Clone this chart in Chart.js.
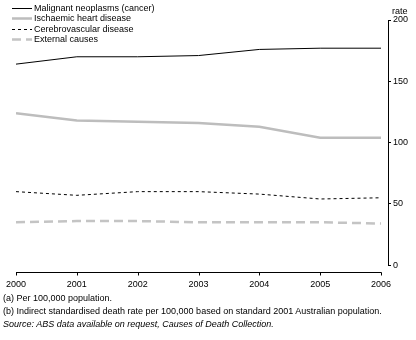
<!DOCTYPE html>
<html><head><meta charset="utf-8">
<script src="https://cdn.jsdelivr.net/npm/chart.js@4/dist/chart.umd.min.js"></script>
<style>
html,body{margin:0;padding:0;background:#fff;}
#wrap{position:relative;width:416px;height:340px;overflow:hidden;}
canvas{position:absolute;left:0;top:0;}
.note{position:absolute;left:3px;font:9px "Liberation Sans",Arial,sans-serif;color:#000;white-space:nowrap;}
</style></head><body>
<div id="wrap"><canvas id="c" width="416" height="340"></canvas>
<div class="note" style="top:293px">(a) Per 100,000 population.</div>
<div class="note" style="top:306px">(b) Indirect standardised death rate per 100,000 based on standard 2001 Australian population.</div>
<div class="note" style="top:319px;font-style:italic">Source: ABS data available on request, Causes of Death Collection.</div>
</div>
<script>
const years = [2000, 2001, 2002, 2003, 2004, 2005, 2006];
const malignant = [164, 170, 170, 171, 176, 177, 177];
const ischaemic = [124, 118, 117, 116, 113, 104, 104];
const cerebro = [60, 57, 60, 60, 58, 54, 55];
const external = [35, 36, 36, 35, 35, 35, 34];
const yTicks = [0, 50, 100, 150, 200];
const seriesNames = ['Malignant neoplasms (cancer)', 'Ischaemic heart disease', 'Cerebrovascular disease', 'External causes'];
const yTitle = 'rate';

const FONT = '"Liberation Sans", Arial, sans-serif';
const pts = arr => years.map((y, i) => ({x: y, y: arr[i]}));

const extras = {
  id: 'extras',
  afterDraw(chart) {
    const ctx = chart.ctx, xs = chart.scales.x, ca = chart.chartArea;
    ctx.save();
    // x axis line, drawn slightly below the zero line
    const ay = Math.round(ca.bottom + 7) + 0.5;
    const x0 = xs.getPixelForValue(years[0]), x1 = xs.getPixelForValue(years[years.length - 1]);
    ctx.strokeStyle = '#000'; ctx.lineWidth = 1; ctx.setLineDash([]);
    ctx.beginPath(); ctx.moveTo(x0, ay); ctx.lineTo(x1 + 0.5, ay);
    years.forEach(y => { const px = Math.round(xs.getPixelForValue(y)) + 0.5; ctx.moveTo(px, ay); ctx.lineTo(px, ay + 3); });
    ctx.stroke();
    // y axis title
    ctx.fillStyle = '#000'; ctx.font = '9px ' + FONT; ctx.textAlign = 'left'; ctx.textBaseline = 'middle';
    ctx.fillText(yTitle, ca.right + 4, 12);
    // legend
    chart.data.datasets.forEach((ds, i) => {
      const ly = 8 + i * 10.3;
      ctx.strokeStyle = ds.borderColor; ctx.lineWidth = ds.borderWidth;
      ctx.setLineDash(ds.borderDash || []);
      ctx.beginPath(); ctx.moveTo(12, Math.round(ly) + 0.5); ctx.lineTo(32, Math.round(ly) + 0.5); ctx.stroke();
      ctx.setLineDash([]);
      ctx.fillStyle = '#000';
      ctx.fillText(ds.label, 34, ly + 0.5);
    });
    ctx.restore();
  }
};

new Chart(document.getElementById('c'), {
  type: 'line',
  data: {
    datasets: [
      {label: seriesNames[0], data: pts(malignant), borderColor: '#000', borderWidth: 1, pointRadius: 0, tension: 0},
      {label: seriesNames[1], data: pts(ischaemic), borderColor: '#bdbdbd', borderWidth: 2.5, pointRadius: 0, tension: 0},
      {label: seriesNames[2], data: pts(cerebro), borderColor: '#000', borderWidth: 1, borderDash: [3, 3], pointRadius: 0, tension: 0},
      {label: seriesNames[3], data: pts(external), borderColor: '#c4c4c4', borderWidth: 2.5, borderDash: [9, 5], pointRadius: 0, tension: 0}
    ]
  },
  options: {
    responsive: false, animation: false, devicePixelRatio: 1,
    layout: {padding: {left: 16, right: 0, top: 20, bottom: 36}},
    plugins: {legend: {display: false}, tooltip: {enabled: false}},
    scales: {
      x: {
        type: 'linear', min: 2000, max: 2006.115,
        afterBuildTicks: s => { s.ticks = years.map(v => ({value: v})); },
        afterFit: s => { s.paddingLeft = 0; s.paddingRight = 0; },
        grid: {display: false, drawTicks: false},
        border: {display: false},
        ticks: {padding: 14, color: '#000', font: {family: FONT, size: 9}, maxRotation: 0, autoSkip: false, callback: v => String(v)}
      },
      y: {
        position: 'right', min: 0, max: 200,
        afterBuildTicks: s => { s.ticks = yTicks.map(v => ({value: v})); },
        afterFit: s => { s.width = 28; },
        grid: {drawOnChartArea: false, drawTicks: true, tickLength: 3, color: '#000'},
        border: {display: true, color: '#000'},
        ticks: {padding: 2, color: '#000', font: {family: FONT, size: 9}}
      }
    }
  },
  plugins: [extras]
});
</script>
</body></html>
